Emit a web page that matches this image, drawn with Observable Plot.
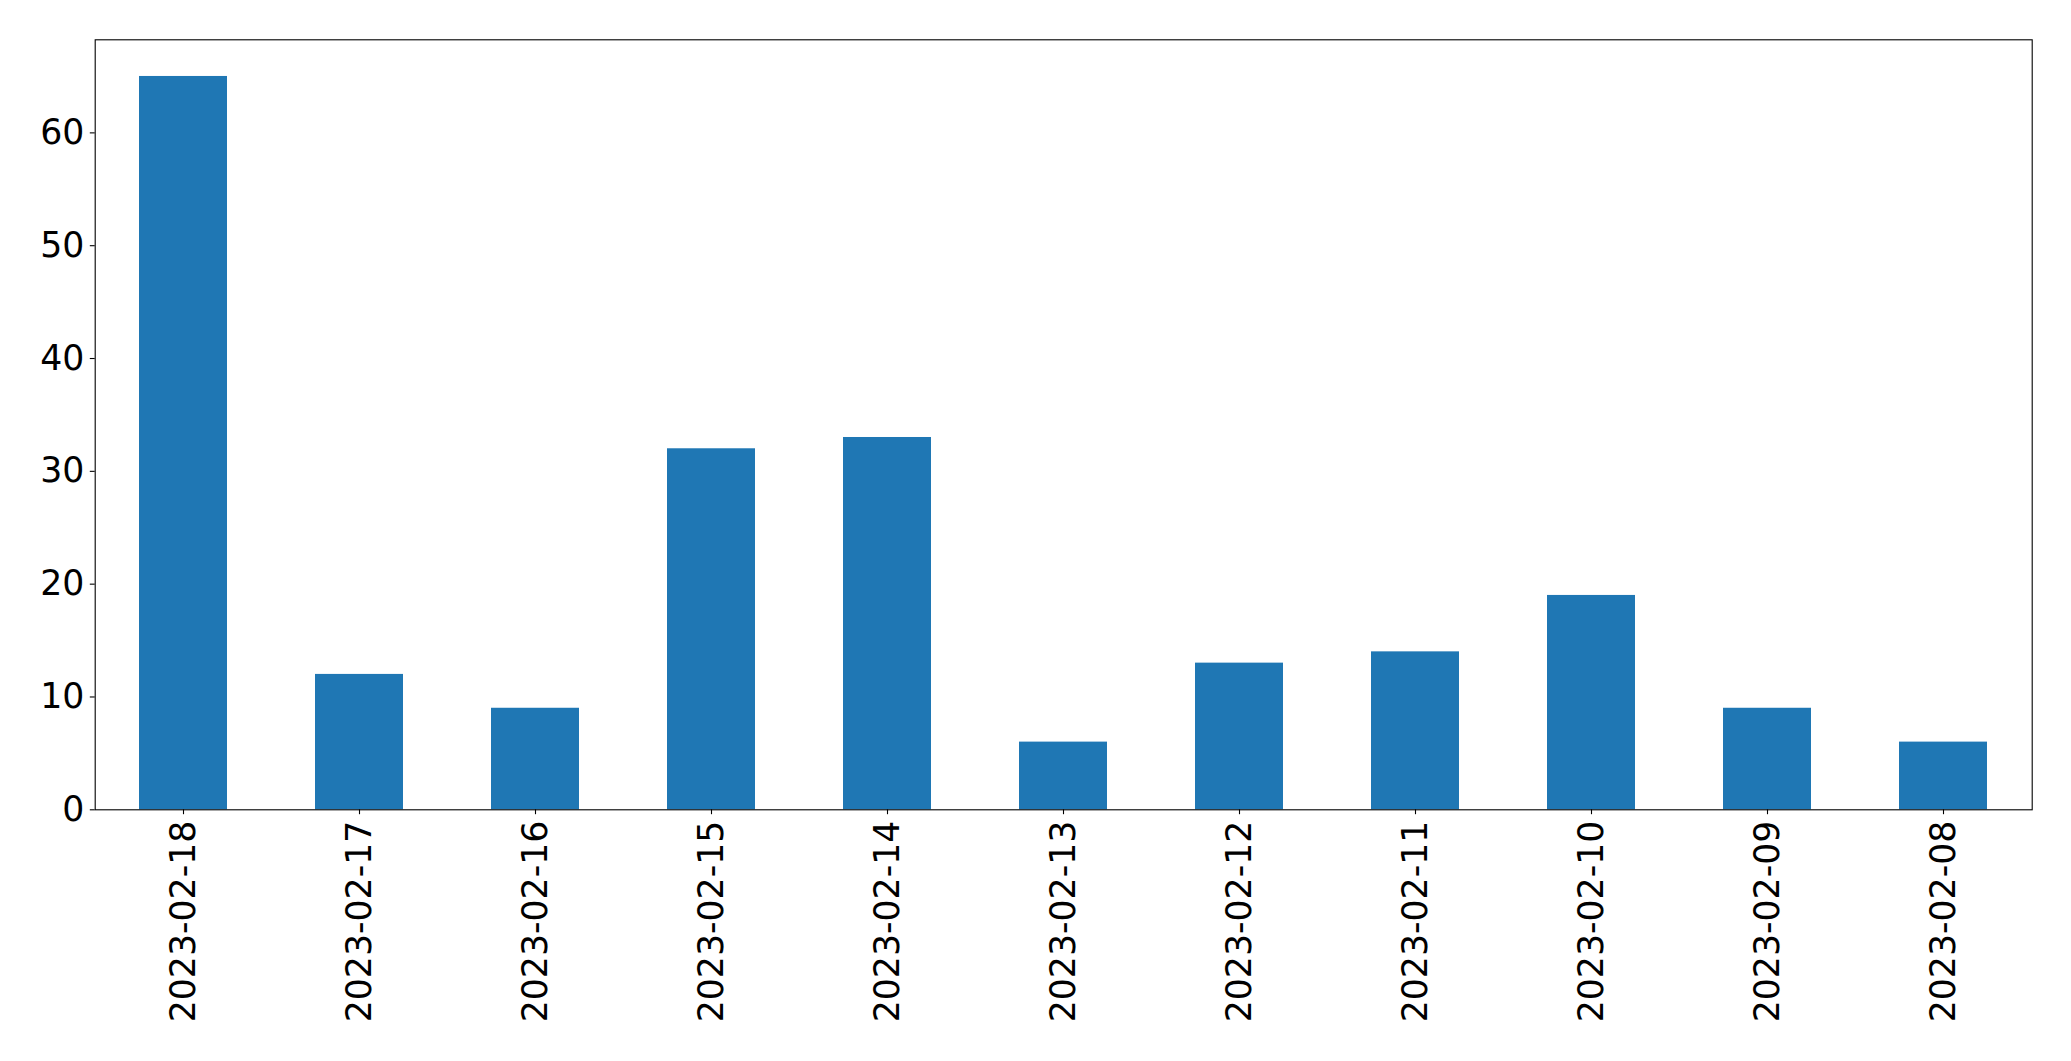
<!DOCTYPE html>
<html>
<head>
<meta charset="utf-8">
<script src="https://cdn.jsdelivr.net/npm/d3@7"></script>
<script src="https://cdn.jsdelivr.net/npm/@observablehq/plot@0.6"></script>
<style>
  html, body { margin: 0; padding: 0; background: #fff; }
  #chart svg { display: block; }
</style>
</head>
<body>
<div id="chart"></div>
<script>
const dates = ["2023-02-18","2023-02-17","2023-02-16","2023-02-15","2023-02-14","2023-02-13","2023-02-12","2023-02-11","2023-02-10","2023-02-09","2023-02-08"];
const counts = [65, 12, 9, 32, 33, 6, 13, 14, 19, 9, 6];
const yTicks = [0, 10, 20, 30, 40, 50, 60];

const data = dates.map((d, i) => ({date: d, count: counts[i]}));

const chart = Plot.plot({
  width: 2071,
  height: 1061,
  marginLeft: 94.7,
  marginRight: 39.3,
  marginTop: 39.3,
  marginBottom: 251.7,
  style: {fontFamily: "'DejaVu Sans', sans-serif", fontSize: "34.7px", color: "#000", background: "#fff"},
  x: {type: "band", domain: dates, paddingInner: 0.5, paddingOuter: 0.25, label: null},
  y: {domain: [0, 68.25], label: null},
  marks: [
    Plot.barY(data, {x: "date", y: "count", fill: "#1f77b4"}),
    Plot.axisX({tickRotate: -90, tickSize: 4.9, tickPadding: 6, stroke: "#000", strokeWidth: 1.1, fill: "#000", fontSize: 34.7, label: null}),
    Plot.axisY({ticks: yTicks, tickSize: 4.9, tickPadding: 6, stroke: "#000", strokeWidth: 1.1, fill: "#000", fontSize: 34.7, label: null}),
    Plot.frame({stroke: "#000", strokeWidth: 1.1})
  ]
});
document.getElementById("chart").appendChild(chart);
</script>
</body>
</html>
